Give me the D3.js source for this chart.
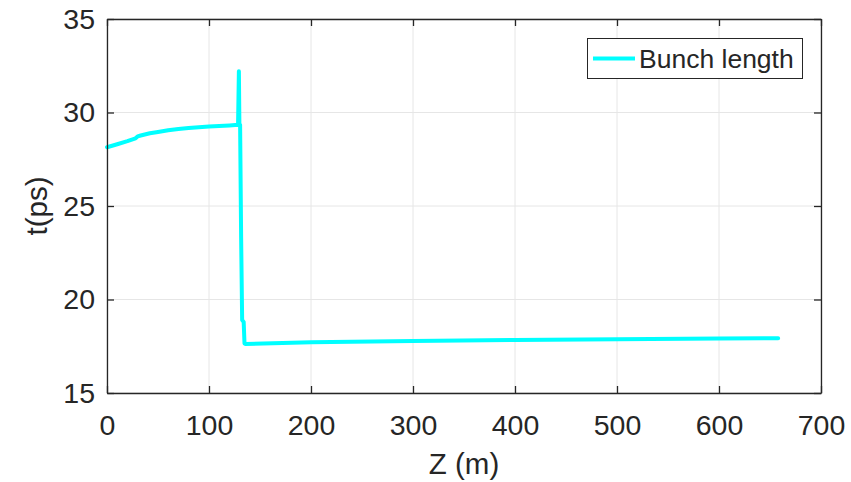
<!DOCTYPE html>
<html><head><meta charset="utf-8">
<script src="https://cdn.jsdelivr.net/npm/d3@7"></script>
<style>
body{margin:0;background:#fff;}
text{font-family:"Liberation Sans",Arial,sans-serif;fill:#262626;}
</style></head>
<body>
<svg id="chart" width="851" height="482"></svg>
<script>
const zValues = [0,10,20,28,30,33,42,50,60,70,80,90,100,110,120,128.5,129.3,129.8,130.5,131.5,132.5,134,134.8,135.5,200,300,400,500,600,658];
const tValues = [28.14,28.3,28.47,28.62,28.72,28.77,28.89,28.96,29.05,29.12,29.17,29.21,29.25,29.28,29.31,29.34,32.2,29.4,29.33,23.3,18.9,18.8,17.65,17.62,17.71,17.78,17.84,17.88,17.91,17.93];
const xTicks = [0,100,200,300,400,500,600,700];
const yTicks = [15,20,25,30,35];
const seriesName = "Bunch length";
const xLabel = "Z (m)";
const yLabel = "t(ps)";

const data = zValues.map((z,i)=>({z, t:tValues[i]}));
const svg = d3.select("#chart");
const m = {left:107, right:821, top:19, bottom:393};
const x = d3.scaleLinear().domain([0,700]).range([m.left,m.right]);
const y = d3.scaleLinear().domain([15,35]).range([m.bottom,m.top]);
const axisColor = "#262626";

// grid
const g = svg.append("g");
g.selectAll("line.gx").data(xTicks).join("line")
 .attr("x1",d=>x(d)).attr("x2",d=>x(d)).attr("y1",m.top).attr("y2",m.bottom)
 .attr("stroke","#e6e6e6").attr("stroke-width",1);
g.selectAll("line.gy").data(yTicks).join("line")
 .attr("y1",d=>y(d)).attr("y2",d=>y(d)).attr("x1",m.left).attr("x2",m.right)
 .attr("stroke","#e6e6e6").attr("stroke-width",1);

// line
svg.append("path").datum(data)
 .attr("d", d3.line().x(d=>x(d.z)).y(d=>y(d.t)))
 .attr("fill","none").attr("stroke","#00ffff").attr("stroke-width",4)
 .attr("stroke-linejoin","round").attr("stroke-linecap","round");

// axes
const tickLen = 7;
const fmt = d3.format("d");
const axB = svg.append("g").attr("transform",`translate(0,${m.bottom})`)
 .call(d3.axisBottom(x).tickValues(xTicks).tickFormat(fmt).tickSizeInner(-tickLen).tickSizeOuter(0).tickPadding(22));
const axT = svg.append("g").attr("transform",`translate(0,${m.top})`)
 .call(d3.axisTop(x).tickValues(xTicks).tickFormat("").tickSizeInner(-tickLen).tickSizeOuter(0));
const axL = svg.append("g").attr("transform",`translate(${m.left},0)`)
 .call(d3.axisLeft(y).tickValues(yTicks).tickFormat(fmt).tickSizeInner(-tickLen).tickSizeOuter(0).tickPadding(12));
const axR = svg.append("g").attr("transform",`translate(${m.right},0)`)
 .call(d3.axisRight(y).tickValues(yTicks).tickFormat("").tickSizeInner(-tickLen).tickSizeOuter(0));
[axB,axT,axL,axR].forEach(a=>{
  a.select(".domain").attr("stroke",axisColor).attr("stroke-width",1.3);
  a.selectAll(".tick line").attr("stroke",axisColor).attr("stroke-width",1.3);
  a.selectAll(".tick text").attr("font-size",28.5).attr("fill",axisColor)
   .attr("font-family","'Liberation Sans',Arial,sans-serif");
});

// axis labels
svg.append("text").attr("x",(m.left+m.right)/2).attr("y",474)
 .attr("text-anchor","middle").attr("font-size",29.5).text(xLabel);
svg.append("text").attr("transform",`translate(47,${(m.top+m.bottom)/2}) rotate(-90)`)
 .attr("text-anchor","middle").attr("font-size",29.5).text(yLabel);

// legend
const lg = svg.append("g");
lg.append("rect").attr("x",587.5).attr("y",38.5).attr("width",215).attr("height",40)
 .attr("fill","#fff").attr("stroke",axisColor).attr("stroke-width",1);
lg.append("line").attr("x1",593).attr("x2",635).attr("y1",58.5).attr("y2",58.5)
 .attr("stroke","#00ffff").attr("stroke-width",4);
lg.append("text").attr("x",639).attr("y",68).attr("font-size",26.5).text(seriesName);
</script>
</body></html>
